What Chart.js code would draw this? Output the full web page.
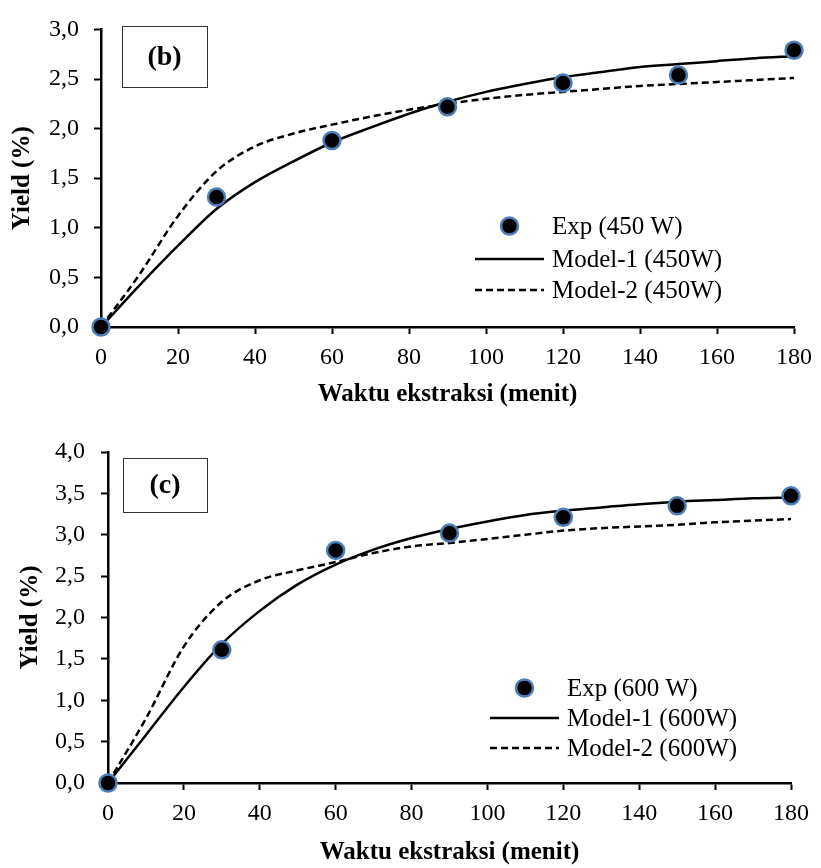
<!DOCTYPE html>
<html>
<head>
<meta charset="utf-8">
<script src="https://cdn.jsdelivr.net/npm/chart.js@4.4.0/dist/chart.umd.min.js"></script>
<style>
  html, body { margin: 0; padding: 0; background: #fff; }
  #wrap { position: relative; width: 821px; height: 868px; }
  canvas { position: absolute; left: 0; }
  #chartB { top: 0; }
  #chartC { top: 420px; }
</style>
</head>
<body>
<div id="wrap">
  <canvas id="chartB" width="821" height="410"></canvas>
  <canvas id="chartC" width="821" height="448"></canvas>
</div>
<script>
// Experimental points (minutes, yield %)
const timeExp = [0, 30, 60, 90, 120, 150, 180];
const expB = [0, 1.31, 1.88, 2.22, 2.46, 2.54, 2.79];
const expC = [0, 1.61, 2.81, 3.02, 3.21, 3.35, 3.47];

// Model curves, every 10 minutes
const timeModel = [0, 10, 20, 30, 40, 50, 60, 70, 80, 90, 100, 110, 120, 130, 140, 150, 160, 170, 180];
const model1B = [0, 0.42, 0.82, 1.19, 1.46, 1.67, 1.86, 2.01, 2.15, 2.27, 2.37, 2.45, 2.52, 2.57, 2.62, 2.65, 2.68, 2.71, 2.73];
const model2B = [0, 0.53, 1.12, 1.57, 1.82, 1.95, 2.04, 2.12, 2.19, 2.25, 2.30, 2.34, 2.37, 2.40, 2.43, 2.45, 2.47, 2.49, 2.51];
const model1C = [0, 0.58, 1.16, 1.68, 2.08, 2.40, 2.64, 2.82, 2.96, 3.07, 3.16, 3.24, 3.29, 3.33, 3.37, 3.40, 3.42, 3.44, 3.45];
const model2C = [0, 0.78, 1.65, 2.19, 2.45, 2.57, 2.67, 2.78, 2.86, 2.90, 2.95, 3.00, 3.05, 3.08, 3.10, 3.12, 3.15, 3.17, 3.19];

const serif = "'Liberation Serif', 'Times New Roman', serif";
Chart.defaults.font.family = serif;
Chart.defaults.color = '#000';

const pts = (xs, ys) => xs.map((x, i) => ({ x: x, y: ys[i] }));

// draws the "(b)" box and the legend inside the plot
const panelDecor = {
  id: 'panelDecor',
  afterDraw(chart, args, o) {
    const ctx = chart.ctx;
    ctx.save();
    // label box
    ctx.strokeStyle = '#333';
    ctx.lineWidth = 1;
    ctx.strokeRect(o.box[0] + 0.5, o.box[1] + 0.5, o.box[2], o.box[3]);
    ctx.font = 'bold 28px ' + serif;
    ctx.fillStyle = '#000';
    ctx.textAlign = 'center';
    ctx.textBaseline = 'middle';
    ctx.fillText(o.tag, o.box[0] + o.box[2] / 2, o.box[1] + o.box[3] / 2 + 1);

    // legend
    const ds = chart.data.datasets;
    const L = o.legend;
    ctx.font = '25px ' + serif;
    ctx.textAlign = 'left';
    ds.forEach((d, i) => {
      const y = L.y[i];
      if (d.showLine) {
        ctx.beginPath();
        ctx.strokeStyle = d.borderColor;
        ctx.lineWidth = d.borderWidth;
        ctx.setLineDash(d.borderDash || []);
        ctx.moveTo(L.x0, y);
        ctx.lineTo(L.x1, y);
        ctx.stroke();
        ctx.setLineDash([]);
      } else {
        ctx.beginPath();
        ctx.arc((L.x0 + L.x1) / 2, y, d.pointRadius, 0, Math.PI * 2);
        ctx.fillStyle = d.pointBackgroundColor;
        ctx.fill();
        ctx.lineWidth = d.pointBorderWidth;
        ctx.strokeStyle = d.pointBorderColor;
        ctx.stroke();
      }
      ctx.fillStyle = '#000';
      ctx.fillText(d.label, L.tx, y + 1);
    });
    ctx.restore();
  }
};

function makePanel(id, cfg) {
  return new Chart(document.getElementById(id), {
    type: 'scatter',
    data: {
      datasets: [
        {
          label: cfg.labels[0],
          data: pts(timeExp, cfg.exp),
          showLine: false,
          pointRadius: 8.5,
          pointHoverRadius: 8.5,
          pointBackgroundColor: '#000',
          pointBorderColor: '#4a7ebb',
          pointBorderWidth: 2.5,
          clip: false
        },
        {
          label: cfg.labels[1],
          data: pts(timeModel, cfg.m1),
          showLine: true,
          borderColor: '#000',
          borderWidth: 2.5,
          pointRadius: 0,
          cubicInterpolationMode: 'monotone'
        },
        {
          label: cfg.labels[2],
          data: pts(timeModel, cfg.m2),
          showLine: true,
          borderColor: '#000',
          borderWidth: 2.5,
          borderDash: [7, 4],
          pointRadius: 0,
          cubicInterpolationMode: 'monotone'
        }
      ]
    },
    options: {
      responsive: false,
      animation: false,
      layout: { padding: { top: cfg.top, right: cfg.right, left: 0, bottom: 0 } },
      plugins: {
        legend: { display: false },
        tooltip: { enabled: false },
        panelDecor: { tag: cfg.tag, box: cfg.box, legend: cfg.legend }
      },
      scales: {
        x: {
          type: 'linear',
          min: 0, max: 180,
          ticks: { stepSize: 20, padding: 9, font: { size: 24 } },
          grid: { drawOnChartArea: false, tickLength: 7, tickWidth: 2, tickColor: '#000' },
          border: { color: '#000', width: 2.5 },
          title: { display: true, text: 'Waktu ekstraksi (menit)', padding: { top: 0, bottom: 0 },
                   font: { size: 25, weight: 'bold' } },
          afterFit: s => { s.height = cfg.xh; }
        },
        y: {
          min: 0, max: cfg.ymax,
          ticks: { stepSize: 0.5, padding: cfg.ypad, font: { size: 24 },
                   callback: v => v.toFixed(1).replace('.', ',') },
          grid: { drawOnChartArea: false, tickLength: 7, tickWidth: 2, tickColor: '#000' },
          border: { color: '#000', width: 2.5 },
          title: { display: true, text: 'Yield (%)', padding: { top: cfg.ytp, bottom: 0 },
                   font: { size: 25, weight: 'bold' } },
          afterFit: s => { s.width = cfg.yw; }
        }
      }
    },
    plugins: [panelDecor]
  });
}

makePanel('chartB', {
  tag: '(b)', exp: expB, m1: model1B, m2: model2B, ymax: 3,
  labels: ['Exp (450 W)', 'Model-1 (450W)', 'Model-2 (450W)'],
  top: 21, right: 21, xh: 83, yw: 101, ypad: 15, ytp: 8,
  box: [122, 26, 85, 61],
  legend: { x0: 475, x1: 544, tx: 552, y: [226, 259, 290] }
});

makePanel('chartC', {
  tag: '(c)', exp: expC, m1: model1C, m2: model2C, ymax: 4,
  labels: ['Exp (600 W)', 'Model-1 (600W)', 'Model-2 (600W)'],
  top: 32, right: 30, xh: 85, yw: 108, ypad: 16, ytp: 16,
  box: [123, 38, 84, 54],
  legend: { x0: 490, x1: 559, tx: 567, y: [268, 298, 328] }
});
</script>
</body>
</html>
